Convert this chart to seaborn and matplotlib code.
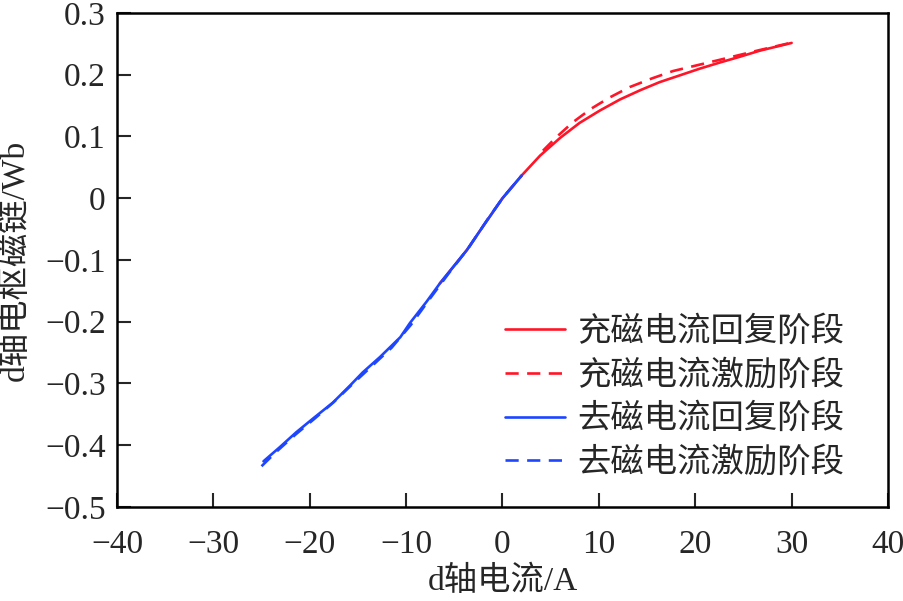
import numpy as np
import pandas as pd
import matplotlib
matplotlib.use('Agg')
import matplotlib.pyplot as plt
import seaborn as sns

sns.set_style('ticks')
plt.rcParams['font.family'] = ['Liberation Serif', 'Noto Sans CJK SC']
plt.rcParams.update({'font.size': 24, 'axes.unicode_minus': True})

# charge (充磁) curves
x_chg_rec = [-6.5, -5.1, -3.7, -2, 0, 2, 3.9, 6.0, 8.0, 10.1, 12.2, 14.3, 16.3,
             18.4, 20.5, 22.6, 24.6, 26.7, 30]
y_chg_rec = [-0.138, -0.111, -0.084, -0.045, 0.0, 0.037, 0.069, 0.098, 0.122, 0.142,
             0.160, 0.175, 0.188, 0.199, 0.210, 0.220, 0.229, 0.239, 0.2515]
x_chg_exc = [4.2, 5.6, 7.3, 9.2, 11.1, 13.2, 15.5, 17.7, 20.1, 22.5, 24.6, 26.7, 30]
y_chg_exc = [0.077, 0.099, 0.123, 0.145, 0.163, 0.180, 0.194, 0.206, 0.215, 0.224,
             0.232, 0.240, 0.252]

# demagnetising (去磁) curves
x_dem_rec = [-24.8, -23.1, -21.4, -19.6, -17.6, -15.8, -14.5, -12.7, -10.6, -9.6,
             -7.9, -6.5, -5.1, -3.7, -2, 0, 2]
y_dem_rec = [-0.426, -0.403, -0.379, -0.356, -0.331, -0.303, -0.282, -0.257, -0.225,
             -0.202, -0.168, -0.138, -0.111, -0.084, -0.045, 0.0, 0.037]
x_dem_exc = [-25, -23.5, -21.5, -19.5, -17.5, -15.5, -13.5, -11.5, -9.5, -7.5, -5.5,
             -3.5, -1.5, 0, 2]
y_dem_exc = [-0.434, -0.411, -0.383, -0.357, -0.330, -0.300, -0.271, -0.242, -0.205,
             -0.162, -0.120, -0.080, -0.033, 0.0, 0.037]

labels = ['充磁电流回复阶段', '充磁电流激励阶段', '去磁电流回复阶段', '去磁电流激励阶段']
red = '#ff1428'
blue = '#1e46ff'

fig = plt.figure(figsize=(9.04, 6.01), dpi=100)
ax = fig.add_axes([0.1294, 0.1564, 0.8529, 0.822])

dash = (0, (5, 3.2))
series = [(x_chg_rec, y_chg_rec, red, '-'),
          (x_chg_exc, y_chg_exc, red, dash),
          (x_dem_rec, y_dem_rec, blue, '-'),
          (x_dem_exc, y_dem_exc, blue, dash)]
for (xs, ys, c, ls), lab in zip(series, labels):
    df = pd.DataFrame({'x': xs, 'y': ys})
    sns.lineplot(data=df, x='x', y='y', ax=ax, color=c, linestyle=ls, lw=1.9,
                 sort=False, label=lab)

ax.set_xlim(-40, 40)
ax.set_ylim(-0.5, 0.3)
ax.set_xticks(np.arange(-40, 41, 10))
ax.set_yticks(np.round(np.arange(-0.5, 0.31, 0.1), 1))
ax.set_yticklabels(['−0.5', '−0.4', '−0.3', '−0.2', '−0.1', '0', '0.1', '0.2', '0.3'])
ax.tick_params(direction='in', length=10, width=1.5, labelsize=24)
ax.tick_params(axis='x', pad=16)
ax.tick_params(axis='y', pad=8)
for s in ax.spines.values():
    s.set_linewidth(1.8)
    s.set_color('black')
ax.set_xlabel('d轴电流/A', fontsize=24, labelpad=4)
ax.set_ylabel('d轴电枢磁链/Wb', fontsize=24, labelpad=10)

ax.legend(loc='lower right', frameon=False, fontsize=24, handlelength=1.8,
          handletextpad=0.35, labelspacing=0.36, borderaxespad=0,
          bbox_to_anchor=(0.96, 0.03))

fig.savefig('out.png', dpi=100)
